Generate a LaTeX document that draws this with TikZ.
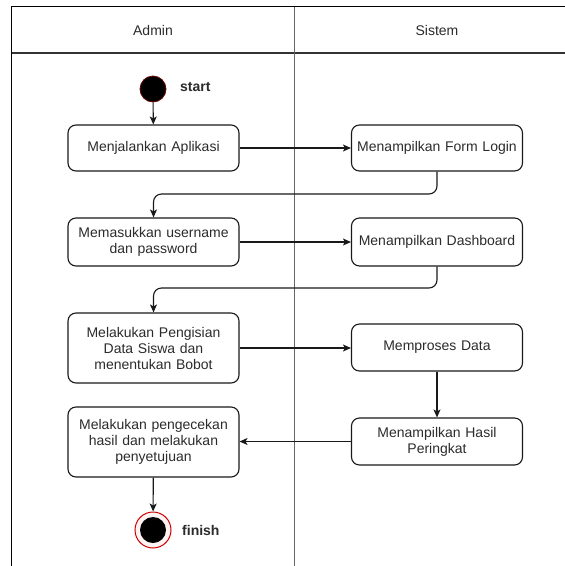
\documentclass[tikz,border=0pt]{standalone}
\usepackage{fontspec}
\setmainfont{Liberation Sans}
\usetikzlibrary{arrows.meta}
\definecolor{txt}{HTML}{2B2B2B}
\definecolor{lane}{HTML}{666666}
\begin{document}
\begin{tikzpicture}[x=1pt,y=-1pt,
  act/.style={draw=black!90, line width=1.1pt, rounded corners=8pt, align=center,
    minimum width=171pt, text width=165pt, inner sep=0pt, text=txt,
    font=\fontsize{14}{16}\selectfont},
  conn/.style={draw=black!90, line width=1.1pt, -{Stealth[length=8pt,width=7pt,inset=2pt]}},
  lbl/.style={font=\bfseries\fontsize{14}{16}\selectfont, text=txt, anchor=west, inner sep=0pt},
  hdr/.style={font=\fontsize{14}{16}\selectfont, text=txt, inner sep=0pt}]
\useasboundingbox (0,0) rectangle (565,566);
% swimlanes
\draw[black, line width=1.3pt] (565,6.5) -- (11.5,6.5) -- (11.5,566);
\draw[black!80, line width=1.3pt] (11.5,53) -- (565,53);
\draw[lane, line width=1.5pt] (294.7,6.5) -- (294.7,566);
\node[hdr] (hA) at (153,30) {Admin};
\node[hdr] (hS) at (437,30) {Sistem};
% start / finish
\node[circle, fill=black, draw=red!40!black, line width=0.8pt, minimum size=26pt, inner sep=0pt] (start) at (153,89) {};
\node[lbl] (startl) at (180,87) {start};
\node[circle, draw=red!80!black, fill=red!5, line width=1pt, minimum size=36pt, inner sep=0pt] (fin) at (153,530) {};
\node[circle, fill=black, minimum size=26pt, inner sep=0pt] (finin) at (153,530) {};
\node[lbl] (finl) at (182,530) {finish};
% activities
\node[act, minimum height=46pt] (b1) at (153.5,148) {Menjalankan Aplikasi};
\node[act, minimum height=46pt] (r1) at (437,148) {Menampilkan Form Login};
\node[act, minimum height=48pt] (b2) at (153.5,242) {Memasukkan username\\dan password};
\node[act, minimum height=48pt] (r2) at (437,242) {Menampilkan Dashboard};
\node[act, minimum height=70pt] (b3) at (153.5,348) {Melakukan Pengisian\\Data Siswa dan\\menentukan Bobot};
\node[act, minimum height=47pt] (r3) at (437,347.5) {Memproses Data};
\node[act, minimum height=47pt] (r4) at (437,441.5) {Menampilkan Hasil\\Peringkat};
\node[act, minimum height=70pt] (b4) at (153.5,442) {Melakukan pengecekan\\hasil dan melakukan\\penyetujuan};
% connectors
\coordinate (t1) at (153.5,194);
\coordinate (t2) at (153.5,288);
\draw[conn] (start) -- (b1);
\draw[conn] (b1) -- (r1);
\draw[conn, rounded corners=8pt] (r1.south) |- (t1) -- (b2.north);
\draw[conn] (b2) -- (r2);
\draw[conn, rounded corners=8pt] (r2.south) |- (t2) -- (b3.north);
\draw[conn] (b3.east) -- (b3.east -| r3.west);
\draw[conn] (r3) -- (r4);
\draw[conn] (r4.west) -- (r4.west -| b4.east);
\draw[conn] (b4) -- (fin);
\end{tikzpicture}
\end{document}
